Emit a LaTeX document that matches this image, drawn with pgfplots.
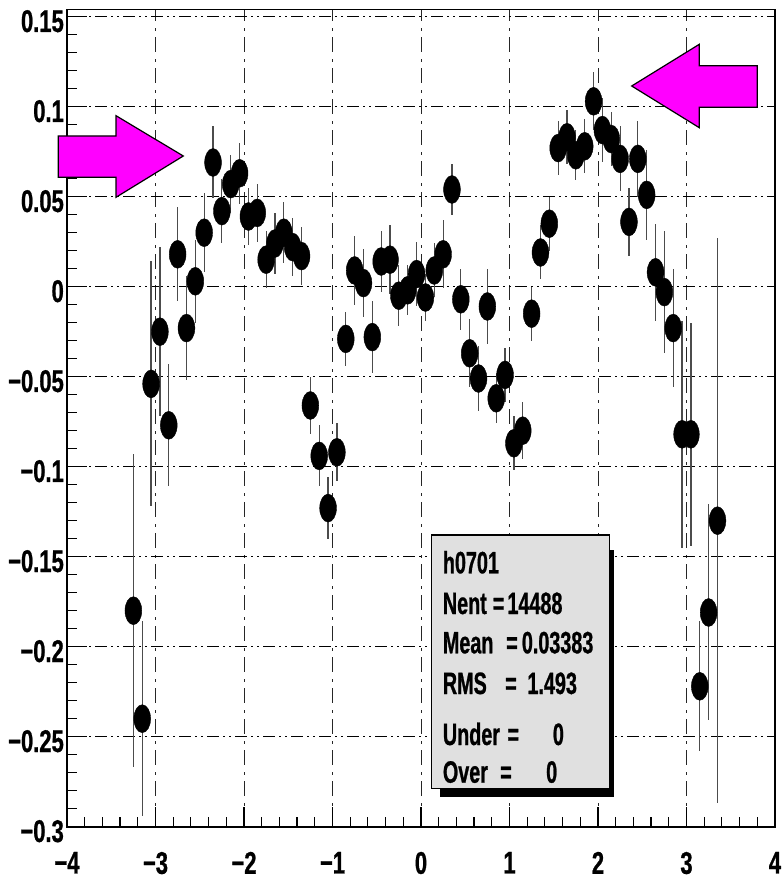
\documentclass[border=0pt]{standalone}
\usepackage{fontspec}
\setmainfont{Liberation Sans}
\newfontfamily\tickfont{Liberation Sans}[UprightFont={* Bold}, FakeStretch=0.70, FakeBold=0.8]
\newfontfamily\statfont{Liberation Sans}[UprightFont={* Bold}, FakeStretch=0.64, FakeBold=0.8]
\usepackage{pgfplots}
\usepackage{pgfplotstable}
\pgfplotsset{compat=1.18}
\definecolor{boxgray}{RGB}{224,224,224}
\definecolor{arrowmag}{RGB}{255,0,255}

\pgfplotstableread{
x y e
-3.25 -0.180 0.087
-3.15 -0.240 0.054
-3.05 -0.054 0.068
-2.95 -0.025 0.047
-2.85 -0.077 0.034
-2.75 0.018 0.026
-2.65 -0.023 0.029
-2.55 0.003 0.023
-2.45 0.030 0.022
-2.35 0.069 0.020
-2.25 0.042 0.018
-2.15 0.057 0.016
-2.05 0.063 0.017
-1.95 0.039 0.016
-1.85 0.041 0.016
-1.75 0.015 0.016
-1.65 0.024 0.017
-1.55 0.030 0.017
-1.45 0.022 0.016
-1.35 0.017 0.016
-1.25 -0.066 0.016
-1.15 -0.094 0.017
-1.05 -0.123 0.017
-0.95 -0.092 0.016
-0.85 -0.029 0.015
-0.75 0.009 0.019
-0.65 0.002 0.019
-0.55 -0.028 0.020
-0.45 0.014 0.017
-0.35 0.015 0.019
-0.25 -0.005 0.017
-0.15 -0.002 0.014
-0.05 0.007 0.018
0.05 -0.006 0.013
0.15 0.009 0.015
0.25 0.018 0.019
0.35 0.054 0.014
0.45 -0.007 0.017
0.55 -0.037 0.019
0.65 -0.051 0.018
0.75 -0.011 0.021
0.85 -0.062 0.014
0.95 -0.049 0.015
1.05 -0.087 0.015
1.15 -0.080 0.016
1.25 -0.015 0.015
1.35 0.019 0.015
1.45 0.035 0.015
1.55 0.077 0.015
1.65 0.083 0.015
1.75 0.073 0.014
1.85 0.078 0.015
1.95 0.103 0.016
2.05 0.087 0.018
2.15 0.082 0.015
2.25 0.071 0.018
2.35 0.036 0.019
2.45 0.071 0.021
2.55 0.051 0.025
2.65 0.008 0.027
2.75 -0.003 0.034
2.85 -0.023 0.033
2.95 -0.082 0.063
3.05 -0.082 0.062
3.15 -0.222 0.036
3.25 -0.181 0.060
3.35 -0.130 0.157
}\datatable

\begin{document}
\begin{tikzpicture}
\useasboundingbox (0,0) rectangle (783bp,879bp);
\begin{axis}[
  at={(67bp,52.3bp)}, anchor=south west,
  scale only axis, width=708bp, height=817.2bp,
  xmin=-4, xmax=4, ymin=-0.3, ymax=0.154,
  axis line style={line width=1.6bp},
  tick pos=left, tick align=inside,
  major tick length=20bp, minor tick length=10bp,
  tick style={black, line width=1.2bp},
  xtick={-4,-3,-2,-1,0,1,2,3,4}, minor x tick num=4,
  ytick={-0.3,-0.25,-0.2,-0.15,-0.1,-0.05,0,0.05,0.1,0.15}, minor y tick num=4,
  xticklabels={−4,−3,−2,−1,0,1,2,3,4},
  yticklabels={−0.3,−0.25,−0.2,−0.15,−0.1,−0.05,0,0.05,0.1,0.15},
  xticklabel style={font=\tickfont\fontsize{31.5}{30}\selectfont, anchor=north, inner sep=0pt, yshift=-25bp},
  yticklabel style={font=\tickfont\fontsize{31.5}{30}\selectfont, anchor=east, inner sep=0pt, xshift=-3bp, yshift=-4.5bp},
  grid=major,
  major x grid style={black!85, line width=0.9bp, dash pattern=on 15bp off 6bp on 3bp off 7bp},
  major y grid style={black, line width=1.3bp, dash pattern=on 12bp off 4bp on 2bp off 4bp on 2bp off 4bp},
]
\addplot[only marks, mark=*, mark size=14bp, black,
  mark options={xscale=0.6, solid, fill=black, draw=black},
  error bars/.cd, y dir=both, y explicit, error mark=none,
  error bar style={line width=1.2bp, black!70, solid}]
  table[x=x, y=y, y error=e]{\datatable};
\end{axis}
\begin{scope}[x=1bp, y=1bp]
  % arrows
  \filldraw[fill=arrowmag, draw=black, line width=1.2bp]
    (58.3,743) -- (116,743) -- (116,763.3) -- (183.3,723) -- (116,681.7) -- (116,701.7) -- (58.3,701.7) -- cycle;
  \filldraw[fill=arrowmag, draw=black, line width=1.2bp]
    (757.3,813.3) -- (699.3,813.3) -- (699.3,834.7) -- (631.7,793) -- (699.3,751.3) -- (699.3,771.7) -- (757.3,771.7) -- cycle;
  % stats box
  \fill[black] (440,329) rectangle (614,82.3);
  \filldraw[fill=boxgray, draw=black, line width=1.3bp] (431.7,344) rectangle (609.3,90.7);
  \begin{scope}[every node/.style={anchor=base west, inner sep=0pt, font=\statfont\fontsize{31}{30}\selectfont}]
    \node at (442.7,305.7) {h0701};
    \node at (442.7,265) {Nent};
    \node at (492.7,265) {=};
    \node at (507.3,265) {14488};
    \node at (442.7,225.7) {Mean};
    \node at (506,225.7) {=};
    \node at (521.7,225.7) {0.03383};
    \node at (442.7,185) {RMS};
    \node at (505,185) {=};
    \node at (527.3,185) {1.493};
    \node at (442.7,134) {Under};
    \node at (507.3,134) {=};
    \node at (552.7,134) {0};
    \node at (442.7,96.3) {Over};
    \node at (500,96.3) {=};
    \node at (546,96.3) {0};
  \end{scope}
\end{scope}
\end{tikzpicture}
\end{document}
